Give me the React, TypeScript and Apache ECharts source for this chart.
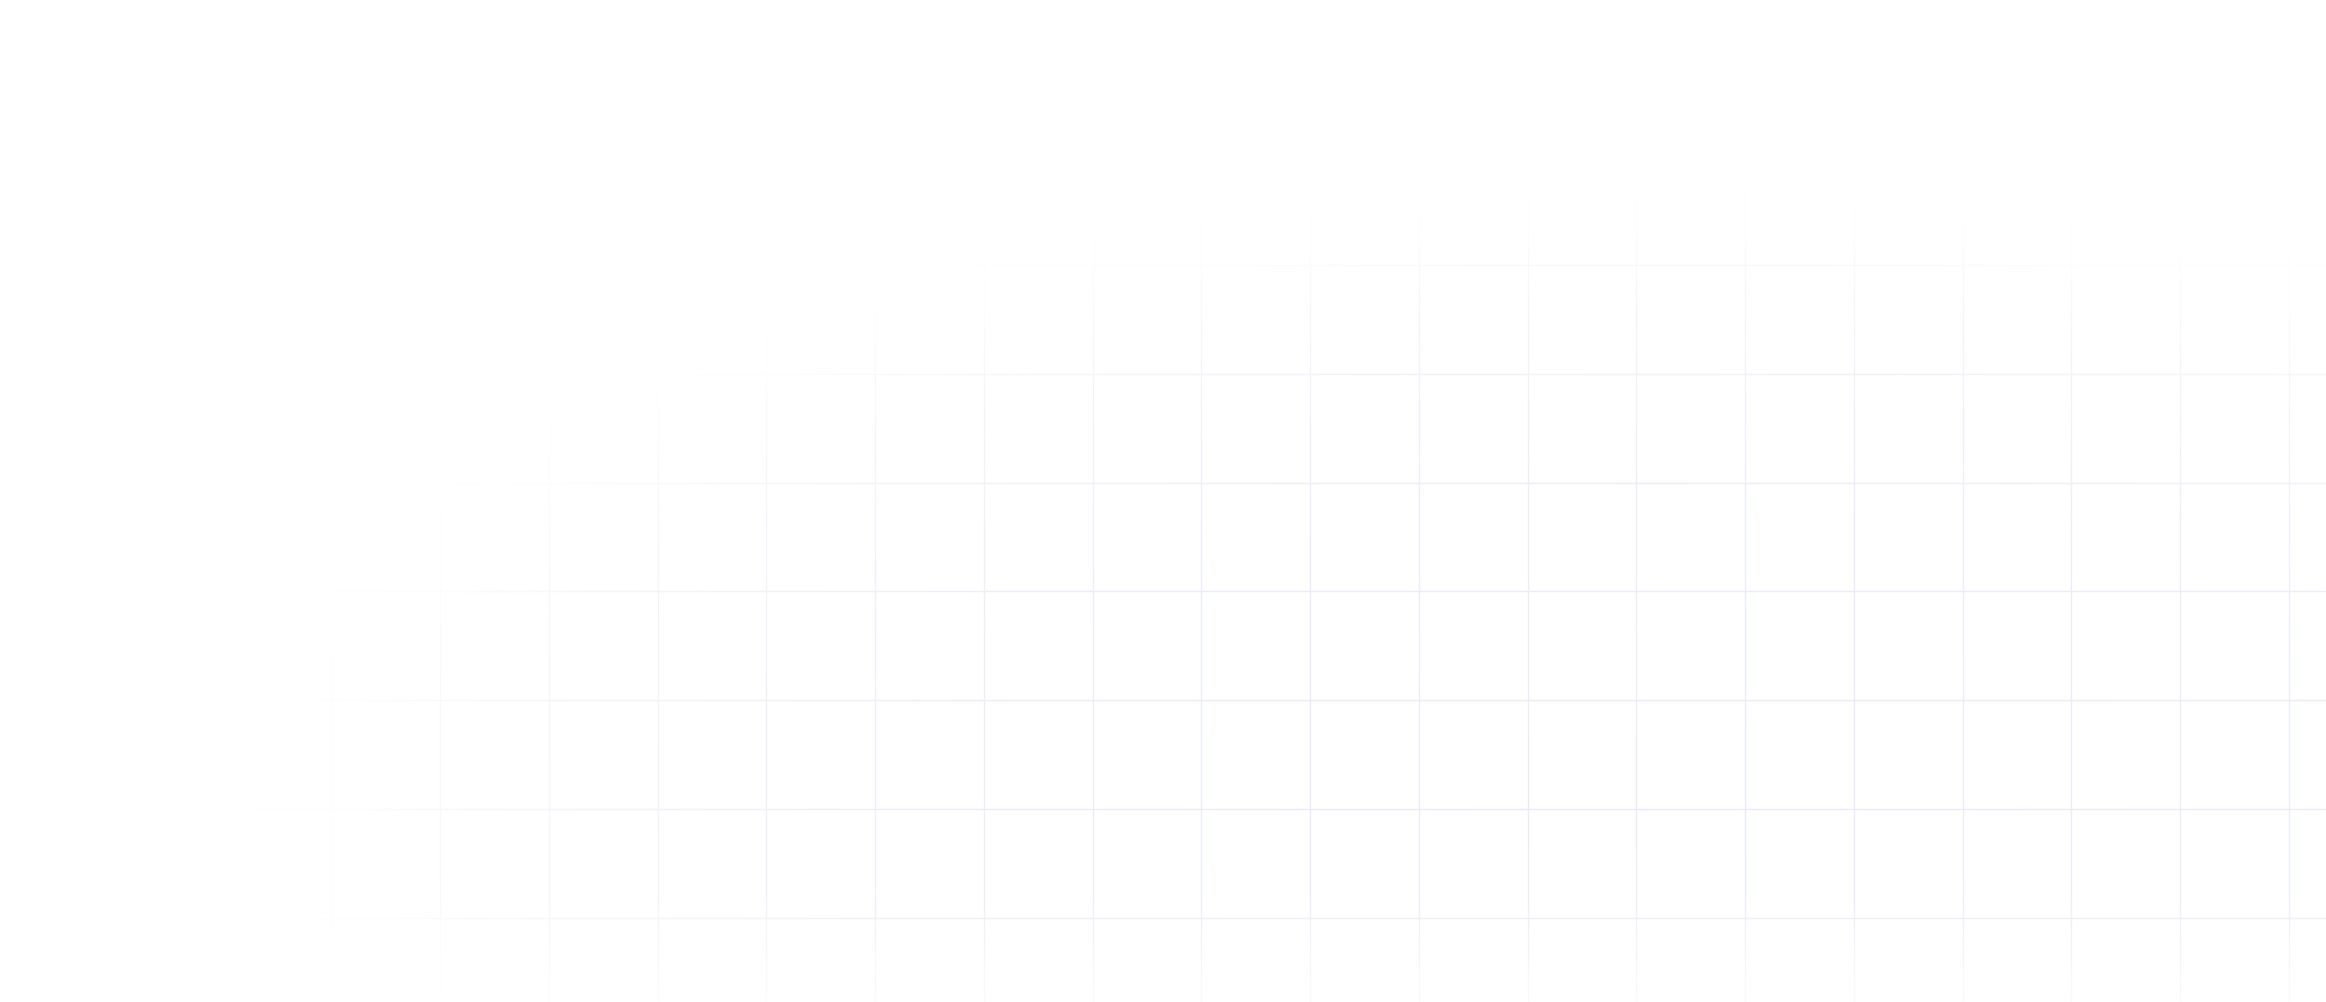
import { useEffect, useRef } from "react";
import * as echarts from "echarts";

// grid columns / rows of the background lattice (one split line per tick)
const columns = ["0", "1", "2", "3", "4", "5", "6", "7", "8", "9", "10", "11", "12", "13", "14", "15", "16", "17", "18", "19", "20", "21", "22"];
const rows = ["0", "1", "2", "3", "4", "5", "6", "7", "8", "9"];

const CELL = 108.75;

export default function App() {
  const chartRef = useRef<HTMLDivElement>(null);

  useEffect(() => {
    if (!chartRef.current) return;
    document.body.style.margin = "0";
    document.body.style.background = "#ffffff";
    const chart = echarts.init(chartRef.current, undefined, { renderer: "svg" });
    const w = chart.getWidth();
    const h = chart.getHeight();

    const option = {
      animation: false,
      backgroundColor: "#ffffff",
      grid: {
        outerBoundsMode: "none",
        containLabel: false,
        left: 5.25,
        top: 47.75,
        width: (columns.length - 1) * CELL,
        height: (rows.length - 1) * CELL,
      },
      xAxis: {
        type: "value",
        min: 0,
        max: columns.length - 1,
        interval: 1,
        axisLine: { show: false },
        axisTick: { show: false },
        axisLabel: { show: false },
        splitLine: { show: true, lineStyle: { color: "#e8e7f7", width: 1.4 } },
      },
      yAxis: {
        type: "value",
        min: 0,
        max: rows.length - 1,
        interval: 1,
        axisLine: { show: false },
        axisTick: { show: false },
        axisLabel: { show: false },
        splitLine: { show: true, lineStyle: { color: "#e8e7f7", width: 1.4 } },
      },
      series: [],
      graphic: [
        {
          type: "rect",
          z: 100,
          silent: true,
          shape: { x: 0, y: 0, width: w, height: h },
          style: {
            fill: new echarts.graphic.RadialGradient(0.71, 0.79, 0.61, [
              { offset: 0, color: "rgba(255,255,255,0.1)" },
              { offset: 0.5, color: "rgba(255,255,255,0.2)" },
              { offset: 0.8, color: "rgba(255,255,255,0.55)" },
              { offset: 0.92, color: "rgba(255,255,255,0.9)" },
              { offset: 1, color: "rgba(255,255,255,1)" },
            ]),
          },
        },
        {
          type: "rect",
          z: 101,
          silent: true,
          shape: { x: 0, y: h - 110, width: w, height: 110 },
          style: {
            fill: new echarts.graphic.LinearGradient(0, 0, 0, 1, [
              { offset: 0, color: "rgba(255,255,255,0)" },
              { offset: 1, color: "rgba(255,255,255,0.75)" },
            ]),
          },
        },
      ],
    };

    chart.setOption(option);
    return () => {
      chart.dispose();
    };
  }, []);

  return (
    <div
      ref={chartRef}
      style={{ position: "fixed", left: 0, top: 0, width: "100vw", height: "100vh" }}
    />
  );
}
